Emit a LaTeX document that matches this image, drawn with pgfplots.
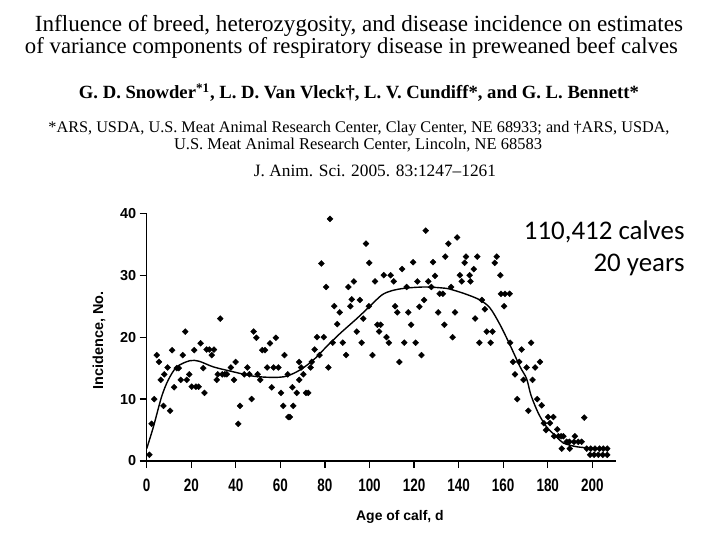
\documentclass[border=0pt]{standalone}
\usepackage{pgfplots}
\pgfplotsset{compat=1.18}
\usepackage{fontspec}
\setmainfont{Liberation Serif}
\newfontfamily\arial{Liberation Sans}
\newfontfamily\arialnarrow[FakeStretch=0.75]{Liberation Sans}
\newfontfamily\calibri{Carlito}
\usepackage{graphicx}

\pgfplotstableread{
x y
1.2 1.0
2.2 6.0
3.4 10.0
4.5 17.1
5.5 16.0
6.3 13.1
7.5 8.9
7.9 14.0
9.4 15.1
10.5 8.1
11.4 17.9
12.3 11.9
13.5 15.0
14.4 15.0
15.3 13.1
16.2 17.1
17.3 20.9
18.0 13.1
19.1 14.0
20.2 12.0
21.3 17.9
22.1 12.0
23.3 12.0
24.2 19.0
25.4 15.0
25.9 11.0
26.9 18.0
28.1 18.0
29.2 17.1
30.2 18.0
31.4 13.1
31.9 14.0
33.0 23.0
33.9 14.0
35.1 14.0
36.0 14.0
37.8 15.1
39.2 13.1
39.9 16.0
41.1 6.0
41.9 8.9
43.8 14.0
45.2 15.1
46.1 14.0
47.1 10.0
48.0 20.9
49.2 19.9
49.8 14.0
51.0 13.1
51.9 17.9
53.1 17.9
54.1 15.1
55.3 19.0
56.1 11.9
57.0 15.1
58.0 19.9
59.1 15.1
60.3 11.0
61.3 8.9
61.8 17.1
63.3 14.0
63.6 7.1
64.3 7.1
65.4 11.9
65.8 8.9
67.3 11.0
68.4 16.0
68.5 13.1
69.3 15.1
70.3 14.0
71.5 11.0
72.5 11.0
73.6 15.1
74.1 16.0
75.4 18.0
76.4 20.0
77.6 17.1
78.4 31.9
79.5 20.0
80.5 28.1
81.5 15.1
82.3 39.1
83.5 19.1
84.2 25.0
85.5 22.1
86.6 24.0
88.0 19.1
89.5 17.1
90.5 28.1
91.4 25.0
92.0 26.1
93.0 29.0
94.3 20.9
95.7 26.0
96.5 19.1
97.2 23.0
98.4 35.1
99.7 25.0
99.9 32.0
101.3 17.1
102.5 29.0
103.5 22.0
104.3 20.9
105.0 22.0
106.4 30.0
107.6 20.0
108.7 19.1
109.5 30.0
110.9 29.0
111.5 25.0
112.5 24.0
113.4 16.0
114.6 31.0
115.6 19.1
116.7 28.1
117.4 24.0
118.7 22.0
119.6 32.1
120.7 19.1
121.5 29.0
122.4 24.9
123.3 17.1
124.5 26.0
125.2 37.2
126.4 29.0
127.8 28.1
128.5 32.1
129.4 29.9
130.8 24.0
131.5 27.0
132.9 27.0
133.6 22.0
134.0 33.0
135.4 35.1
136.6 28.1
137.3 20.0
138.4 24.0
139.3 36.1
140.6 30.0
141.4 29.0
142.7 32.0
143.3 33.0
144.9 30.0
145.3 29.0
146.8 31.0
147.4 23.0
148.4 33.0
149.3 19.1
150.4 26.0
151.8 24.5
152.6 20.9
154.4 19.1
155.2 20.9
156.2 32.0
157.1 33.0
158.7 30.0
159.0 27.0
160.4 25.0
160.8 27.0
162.9 27.0
163.1 19.1
164.4 16.0
165.3 14.0
166.3 10.0
167.2 16.0
168.3 18.0
169.1 13.1
170.5 15.1
171.3 8.1
172.5 19.1
173.2 13.1
174.3 15.1
175.3 10.0
176.5 16.0
177.3 9.0
178.3 6.1
179.2 5.0
180.2 7.1
181.0 6.1
182.5 7.1
182.9 4.0
184.3 5.1
184.8 4.0
186.0 4.0
186.3 2.0
187.0 4.0
188.5 3.1
189.7 3.1
189.9 2.0
191.8 3.1
192.2 4.0
193.7 3.1
195.2 3.1
196.4 7.0
197.5 2.0
199.0 1.0
199.3 2.0
200.8 1.0
201.2 2.0
202.7 1.0
203.2 2.0
204.7 1.0
204.9 2.0
206.7 1.0
206.7 2.0
}\points

\pgfplotstableread{
x y
0 2.0
3 5.5
6.7 10.4
9.7 13.1
13.5 15.2
19.4 16.2
23.6 16.1
29.9 15.2
38.9 14.4
47.8 13.7
56.8 13.5
62.8 13.7
68.8 14.7
74.8 16.3
80.8 18.5
86.8 20.6
94.3 23.0
99.9 24.9
105.5 26.8
110 27.5
115.9 27.9
124.9 28.1
133.9 27.9
137.6 27.6
143.6 26.9
149.6 26.0
154.1 24.7
158.6 22.0
163.1 18.7
167.6 15.2
170.5 13.3
172.5 10.6
175.8 7.7
179.5 5.5
184 3.9
187 2.9
193 2.3
199 2.1
207.2 1.8
}\curve

\begin{document}
\begin{tikzpicture}
\path[use as bounding box, fill=white] (0,0) rectangle (720bp,540bp);

\node[anchor=base] at (359bp,508.3bp) {\resizebox{648bp}{!}{Influence of breed, heterozygosity, and disease incidence on estimates}};
\node[anchor=base] at (351.5bp,486bp) {\resizebox{653bp}{!}{of variance components of respiratory disease in preweaned beef calves}};
\node[anchor=base] at (359bp,441bp) {\resizebox{560bp}{!}{\bfseries G. D. Snowder\textsuperscript{*1}, L. D. Van Vleck†, L. V. Cundiff*, and G. L. Bennett*}};
\node[anchor=base] at (359bp,407.3bp) {\resizebox{621bp}{!}{*ARS, USDA, U.S. Meat Animal Research Center, Clay Center, NE 68933; and †ARS, USDA,}};
\node[anchor=base] at (358bp,390bp) {\resizebox{368bp}{!}{U.S. Meat Animal Research Center, Lincoln, NE 68583}};
\node[anchor=base] at (375bp,363bp) {\resizebox{242bp}{!}{J. Anim. Sci. 2005. 83:1247–1261}};

\begin{axis}[
  at={(146.7bp,79bp)}, anchor=south west,
  scale only axis, width=469bp, height=247.7bp,
  xmin=0, xmax=210.5, ymin=0, ymax=40,
  axis x line*=bottom, axis y line*=left,
  axis line style={-, line width=1.2bp},
  xtick={0,20,...,200}, ytick={0,10,20,30,40},
  tick align=outside, major tick length=7bp,
  tick style={line width=1.2bp, black},
  /pgf/number format/assume math mode=true,
  xticklabel style={font=\arialnarrow\bfseries\fontsize{18}{18}\selectfont, yshift=-7bp},
  yticklabel style={font=\arial\bfseries\fontsize{14.5}{14.5}\selectfont},
  xlabel={Age of calf, d},
  xlabel style={font=\arial\bfseries\fontsize{14}{14}\selectfont, at={(axis description cs:0.54,0)}, anchor=center, yshift=-56bp},
  ylabel={Incidence, No.},
  ylabel style={font=\arial\bfseries\fontsize{14.5}{14.5}\selectfont, at={(axis description cs:-0.1017,0.488)}, anchor=center},
  clip=false,
]
\addplot[only marks, mark=square*, mark size=2.1bp, mark options={rotate=45, fill=black, draw=black}] table[x=x,y=y] {\points};
\addplot[black, line width=1.4bp, smooth, tension=0.5, no markers] table[x=x,y=y] {\curve};
\end{axis}

\node[anchor=base east, font=\calibri\fontsize{27}{27}\selectfont] at (688bp,300bp) {110,412 calves};
\node[anchor=base east, font=\calibri\fontsize{27}{27}\selectfont] at (688bp,268bp) {20 years};
\end{tikzpicture}
\end{document}
